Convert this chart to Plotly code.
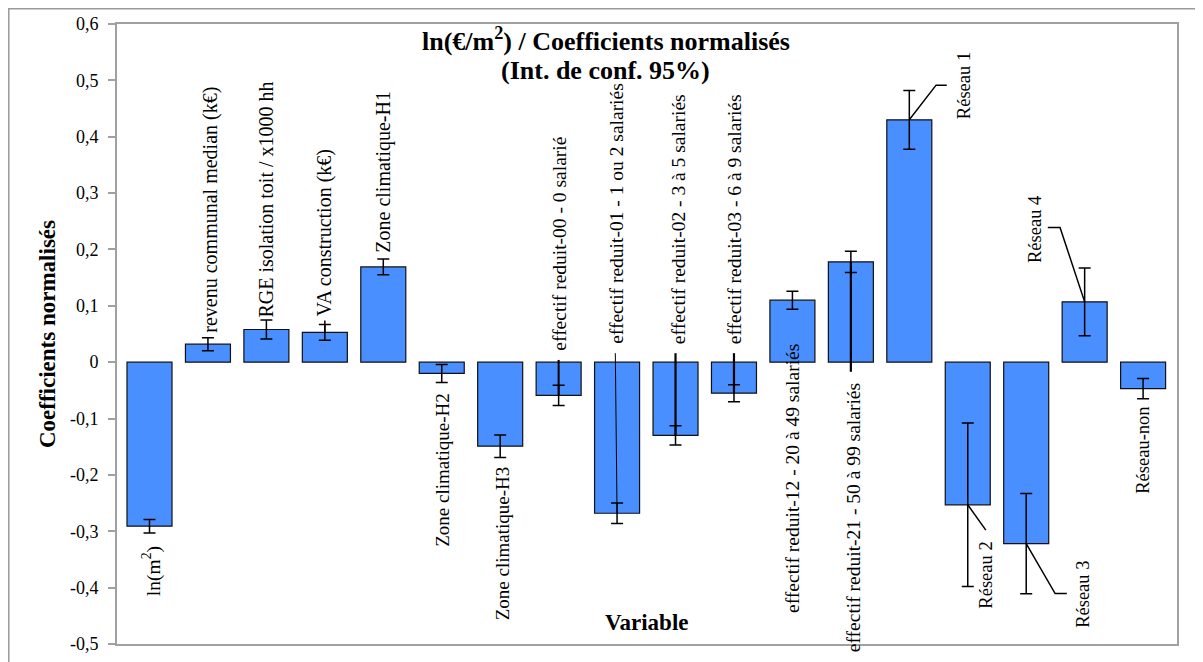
import plotly.graph_objects as go

# ---------------- data ----------------
categories = [
    "ln(m<sup>2</sup>)",
    "revenu communal median (k€)",
    "RGE isolation toit / x1000 hh",
    "VA construction (k€)",
    "Zone climatique-H1",
    "Zone climatique-H2",
    "Zone climatique-H3",
    "effectif reduit-00 - 0 salarié",
    "effectif reduit-01 - 1 ou 2 salariés",
    "effectif reduit-02 - 3 à 5 salariés",
    "effectif reduit-03 - 6 à 9 salariés",
    "effectif reduit-12 - 20 à 49 salariés",
    "effectif reduit-21 - 50 à 99 salariés",
    "Réseau 1",
    "Réseau 2",
    "Réseau 3",
    "Réseau 4",
    "Réseau-non",
]
coefficients = [-0.291, 0.032, 0.058, 0.053, 0.169, -0.020, -0.149, -0.059, -0.268,
                -0.130, -0.055, 0.110, 0.178, 0.430, -0.253, -0.322, 0.107, -0.047]
ci95 = [0.012, 0.0115, 0.017, 0.014, 0.014, 0.016, 0.020, 0.018, 0.018,
        0.017, 0.015, 0.016, 0.019, 0.052, 0.145, 0.089, 0.060, 0.018]

y_tick_values = [-0.5, -0.4, -0.3, -0.2, -0.1, 0.0, 0.1, 0.2, 0.3, 0.4, 0.5, 0.6]
y_tick_labels = ["-0,5", "-0,4", "-0,3", "-0,2", "-0,1", "0", "0,1", "0,2", "0,3", "0,4", "0,5", "0,6"]

title_line1 = "<b>ln(€/m<sup>2</sup>) / Coefficients normalisés</b>"
title_line2 = "<b>(Int. de conf. 95%)</b>"
y_title = "Coefficients normalisés"
x_title = "Variable"

# ---------------- label placement (style / position only) ----------------
# (x offset in category units, label end y, side, leader path as list of (dx, y) after bar end)
label_place = [
    (0.04, -0.325, "below", None),
    (0.03, 0.050, "above", None),
    (0.00, 0.078, "above", None),
    (0.00, 0.080, "above", [(0.0, 0.074)]),
    (0.00, 0.193, "above", None),
    (0.00, -0.053, "below", None),
    (0.03, -0.183, "below", None),
    (0.00, 0.018, "above", [(0.0, 0.004)]),
    (0.00, 0.030, "above", [(-0.03, 0.016)]),
    (0.04, 0.030, "above", [(0.0, 0.016)]),
    (0.00, 0.030, "above", [(0.0, 0.016)]),
    (0.00, 0.034, "below", None),
    (0.05, -0.035, "below", [(0.0, -0.017)]),
    (0.94, 0.429, "above", [(0.458, 0.4915), (0.641, 0.4915)]),
    (0.31, -0.316, "below", [(0.309, -0.298)]),
    (0.97, -0.350, "below", [(0.495, -0.4105), (0.695, -0.4105)]),
    (-0.85, 0.175, "above", [(-0.421, 0.239), (-0.631, 0.239)]),
    (0.00, -0.078, "below", None),
]
label_sizes = [19.5, 20, 20, 20, 20, 19, 19, 19.5, 19.5, 19.5, 19.5, 19.5, 19.5, 18.5, 18.5, 18.5, 18.5, 18.5]
leader_widths = [1, 1, 1, 1.5, 1, 1, 1, 2, 1, 2.2, 2.2, 1, 2.2, 1.5, 1.5, 1.5, 1.5, 1]

FONT = "Liberation Serif"
BAR_BLUE = "#4a8fff"

x_pos = list(range(len(categories)))

fig = go.Figure()
fig.add_trace(go.Bar(
    x=x_pos, y=coefficients, width=0.77,
    marker=dict(color=BAR_BLUE, line=dict(color="#111111", width=1.2)),
    error_y=dict(type="data", array=ci95, visible=True, color="black", thickness=1.5, width=6),
    hoverinfo="skip",
))

annotations = []
shapes = []
for i, (dx, ly, side, leader) in enumerate(label_place):
    annotations.append(dict(
        x=i + dx, y=ly, xref="x", yref="y", text=categories[i], showarrow=False,
        textangle=-90, xanchor="center", yanchor="bottom" if side == "above" else "top",
        font=dict(family=FONT, size=label_sizes[i], color="black"),
        borderpad=0,
    ))
    if leader:
        pts = [(i, coefficients[i])] + [(i + px, py) for px, py in leader]
        path = "M " + " L ".join(f"{px},{py}" for px, py in pts)
        shapes.append(dict(type="path", path=path, xref="x", yref="y",
                           line=dict(color="black", width=leader_widths[i])))

# outer frame of the chart
shapes.append(dict(type="rect", xref="paper", yref="paper", x0=-0.1021, x1=1.2,
                   y0=-0.2, y1=1.0246, line=dict(color="#9a9a9a", width=1.5), layer="below"))

annotations.append(dict(x=0.461, y=0.9742, xref="paper", yref="paper", text=title_line1,
                        showarrow=False, xanchor="center", yanchor="middle", borderpad=0,
                        font=dict(family=FONT, size=26, color="black")))
annotations.append(dict(x=0.461, y=0.9258, xref="paper", yref="paper", text=title_line2,
                        showarrow=False, xanchor="center", yanchor="middle", borderpad=0,
                        font=dict(family=FONT, size=26, color="black")))
annotations.append(dict(x=-0.066, y=0.5, xref="paper", yref="paper", text=f"<b>{y_title}</b>",
                        showarrow=False, textangle=-90, xanchor="center", yanchor="middle",
                        font=dict(family=FONT, size=23, color="black")))
annotations.append(dict(x=0.5, y=0.034, xref="paper", yref="paper", text=f"<b>{x_title}</b>",
                        showarrow=False, xanchor="center", yanchor="middle",
                        font=dict(family=FONT, size=23, color="black")))

fig.update_layout(
    width=1195, height=654,
    margin=dict(l=109, r=26, t=16, b=18, autoexpand=False),
    paper_bgcolor="white", plot_bgcolor="white",
    showlegend=False,
    font=dict(family=FONT, size=16, color="black"),
    xaxis=dict(range=[-0.556, 17.58], showticklabels=False, ticks="", showgrid=False,
               automargin=False,
               zeroline=False, showline=True, mirror=True, linecolor="#a0a0a0", linewidth=2),
    yaxis=dict(range=[-0.5, 0.6], tickvals=y_tick_values, ticktext=y_tick_labels,
               ticks="outside", ticklen=7, tickcolor="#a0a0a0", tickwidth=1.5,
               ticklabelstandoff=6, automargin=False,
               showgrid=False, zeroline=False, showline=True, mirror=True,
               linecolor="#a0a0a0", linewidth=2,
               tickfont=dict(family=FONT, size=18, color="black")),
    annotations=annotations,
    shapes=shapes,
)

fig.write_html("out.html")
